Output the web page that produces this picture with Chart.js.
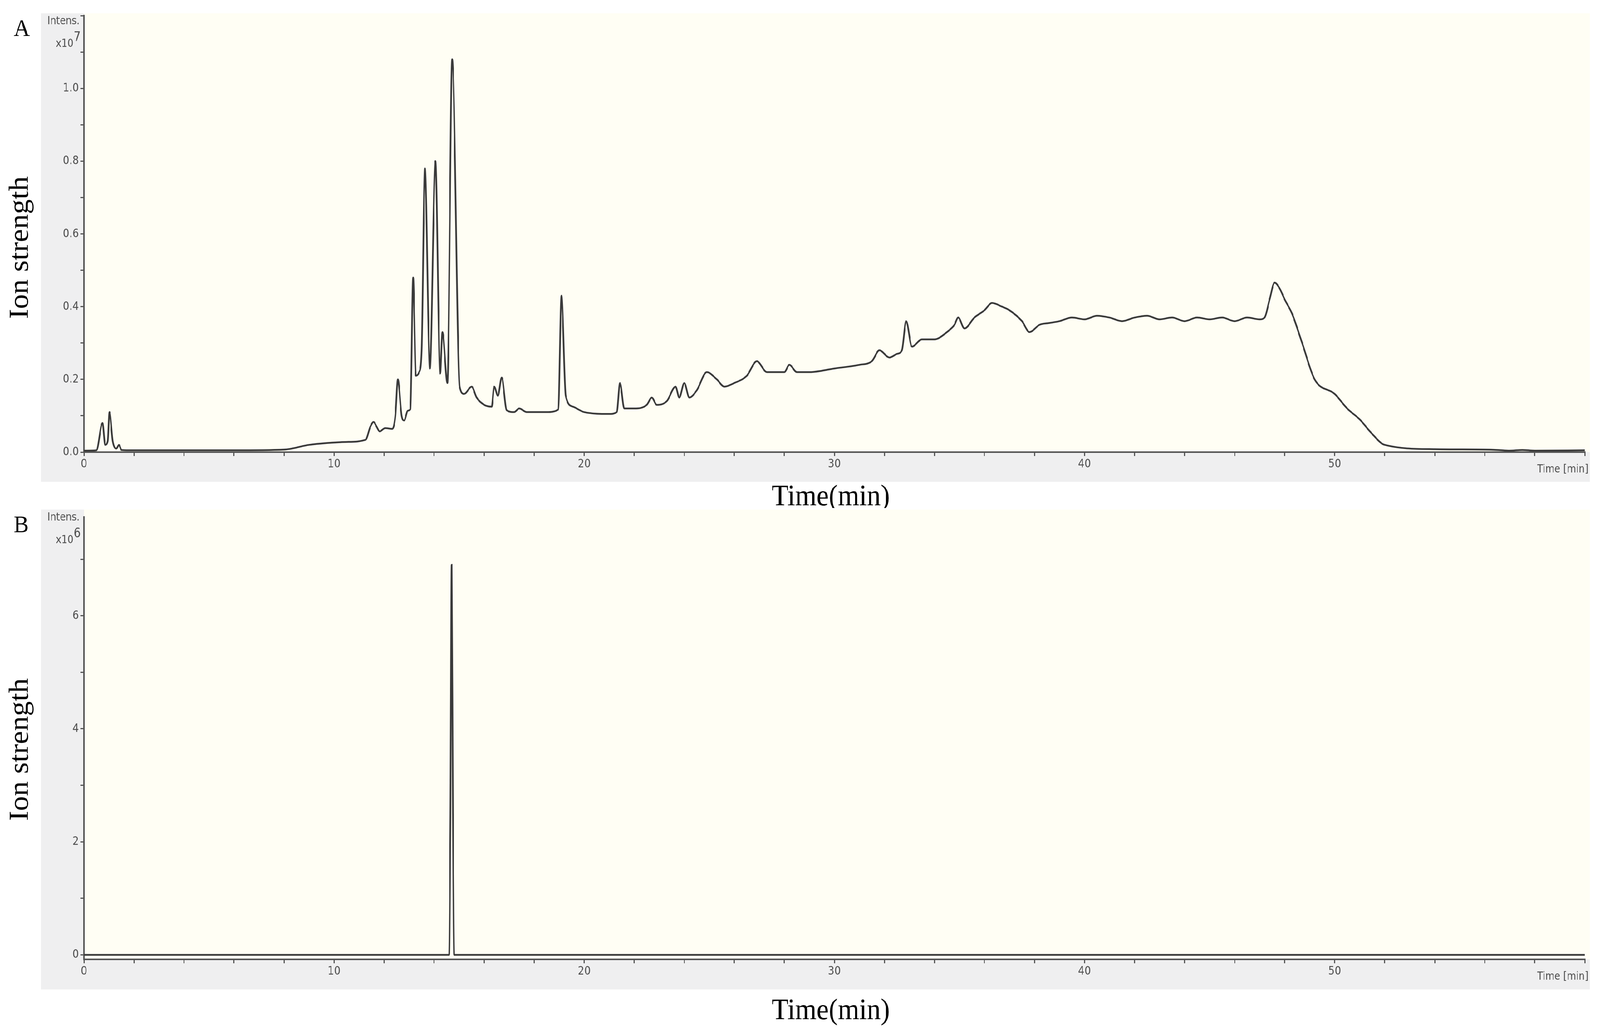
<!DOCTYPE html>
<html>
<head>
<meta charset="utf-8">
<script src="https://cdn.jsdelivr.net/npm/chart.js@4.4.0/dist/chart.umd.min.js"></script>
<style>
html, body { margin:0; padding:0; background:#fff; overflow:hidden; }
#wrap { position:absolute; left:0; top:0; width:4422px; height:2646px; transform-origin:0 0; }
canvas { position:absolute; left:0; }
</style>
</head>
<body>
<div id="wrap">
<canvas id="chartA" style="top:0px"></canvas>
<canvas id="chartB" style="top:1300px"></canvas>
</div>
<script>
// panel A: total ion chromatogram, intensity in x10^7
var timeA = [0, 0.5, 0.74, 0.85, 0.95, 1.02, 1.15, 1.3, 1.4, 1.5, 2, 4, 6, 8, 9, 9.7, 10.5, 11.26, 11.45, 11.58, 11.7, 11.82, 12.04, 12.33, 12.45, 12.55, 12.7, 12.8, 12.95, 13.05, 13.16, 13.27, 13.4, 13.5, 13.63, 13.83, 14.05, 14.24, 14.33, 14.53, 14.72, 15.02, 15.2, 15.5, 15.7, 16.0, 16.3, 16.4, 16.55, 16.7, 16.9, 17.2, 17.4, 17.7, 18.5, 18.96, 19.09, 19.26, 19.55, 20, 21, 21.3, 21.43, 21.6, 22, 22.5, 22.7, 22.9, 23.3, 23.65, 23.8, 24.0, 24.2, 24.5, 24.9, 25.3, 25.6, 26, 26.5, 26.9, 27.3, 28, 28.2, 28.5, 29, 30, 31, 31.5, 31.8, 32.2, 32.5, 32.7, 32.87, 33.1, 33.5, 34, 34.5, 34.8, 34.95, 35.2, 35.6, 36, 36.3, 36.7, 37, 37.5, 37.8, 38.2, 38.6, 39, 39.5, 40, 40.5, 41, 41.5, 42, 42.5, 43, 43.5, 44, 44.5, 45, 45.5, 46, 46.5, 47, 47.2, 47.4, 47.6, 47.8, 48, 48.3, 48.7, 49.2, 50, 50.5, 51, 51.5, 52, 54, 56, 56.5, 57, 57.5, 58, 60];
var intensityA = [0.004, 0.005, 0.08, 0.02, 0.03, 0.11, 0.03, 0.01, 0.02, 0.006, 0.005, 0.005, 0.005, 0.007, 0.02, 0.025, 0.028, 0.034, 0.07, 0.083, 0.07, 0.057, 0.066, 0.064, 0.1, 0.2, 0.1, 0.087, 0.114, 0.118, 0.48, 0.21, 0.22, 0.28, 0.78, 0.23, 0.8, 0.216, 0.33, 0.19, 1.08, 0.18, 0.16, 0.18, 0.15, 0.13, 0.125, 0.18, 0.155, 0.205, 0.115, 0.11, 0.12, 0.11, 0.11, 0.117, 0.43, 0.155, 0.125, 0.11, 0.105, 0.11, 0.19, 0.12, 0.12, 0.13, 0.15, 0.13, 0.14, 0.18, 0.15, 0.19, 0.15, 0.17, 0.22, 0.2, 0.18, 0.19, 0.21, 0.25, 0.22, 0.22, 0.24, 0.22, 0.22, 0.23, 0.24, 0.25, 0.28, 0.26, 0.27, 0.28, 0.36, 0.29, 0.31, 0.31, 0.33, 0.35, 0.37, 0.34, 0.37, 0.39, 0.41, 0.4, 0.39, 0.36, 0.33, 0.35, 0.355, 0.36, 0.37, 0.365, 0.375, 0.37, 0.36, 0.37, 0.375, 0.365, 0.37, 0.36, 0.37, 0.365, 0.37, 0.36, 0.37, 0.365, 0.37, 0.42, 0.466, 0.45, 0.42, 0.38, 0.3, 0.2, 0.16, 0.12, 0.09, 0.05, 0.02, 0.008, 0.007, 0.006, 0.004, 0.006, 0.004, 0.005, 0.004];

// panel B: extracted ion chromatogram, intensity in x10^6
var timeB = [0, 14.6, 14.65, 14.7, 14.75, 14.8, 60];
var intensityB = [0, 0, 2.5, 6.9, 2.5, 0, 0];

var ticksA = [0, 0.1, 0.2, 0.3, 0.4, 0.5, 0.6, 0.7, 0.8, 0.9, 1.0, 1.1, 1.2];
var labelsA = [0, 0.2, 0.4, 0.6, 0.8, 1.0];
var ticksB = [0, 1, 2, 3, 4, 5, 6, 7];
var labelsB = [0, 2, 4, 6];
var timeTicks = [0, 2, 4, 6, 8, 10, 12, 14, 16, 18, 20, 22, 24, 26, 28, 30, 32, 34, 36, 38, 40, 42, 44, 46, 48, 50, 52, 54, 56, 58, 60];
var timeLabels = [0, 10, 20, 30, 40, 50];

var tickFont = { family: 'DejaVu Sans Condensed', size: 31 };
var serif = '"Liberation Serif", "DejaVu Serif", serif';

var wrap = document.getElementById('wrap');
wrap.style.transform = 'scale(' + (window.innerWidth / 4422) + ',' + (window.innerHeight / 2646) + ')';

function pts(xs, ys) {
  return xs.map(function(x, i){ return { x: x, y: ys[i] }; });
}

var decor = {
  id: 'decor',
  beforeDraw: function(chart) {
    var c = chart.ctx, a = chart.chartArea, o = chart.options.plugins.decor;
    c.save();
    c.fillStyle = '#efeff0';
    c.fillRect(113, o.grayTop, 4394 - 113, o.grayBottom - o.grayTop);
    c.fillStyle = '#fffef4';
    c.fillRect(a.left, o.grayTop, 4394 - a.left, a.bottom - o.grayTop);
    c.restore();
  },
  afterDraw: function(chart) {
    var c = chart.ctx, a = chart.chartArea, o = chart.options.plugins.decor;
    c.save();
    c.fillStyle = '#000';
    c.font = '62px ' + serif;
    c.textAlign = 'left';
    c.textBaseline = 'middle';
    c.fillText(o.letter, 38, o.grayTop + 42);
    c.fillStyle = '#505050';
    c.font = '29px "DejaVu Sans Condensed", "DejaVu Sans"';
    c.textAlign = 'right';
    c.fillText('Intens.', 220, o.grayTop + 20);
    c.fillText('x10', 203, o.grayTop + 78);
    c.font = '34px "DejaVu Sans Condensed", "DejaVu Sans"';
    c.fillText(o.exp, 223, o.grayTop + 62);
    c.font = '29px "DejaVu Sans Condensed", "DejaVu Sans"';
    c.fillText('Time [min]', 4390, a.bottom + 44);
    c.fillStyle = '#000';
    c.font = '76px ' + serif;
    c.textAlign = 'center';
    c.fillText('Time(min)', 2296, o.titleY);
    c.translate(57, (o.grayTop + o.grayBottom) / 2);
    c.rotate(-Math.PI / 2);
    c.fillText('Ion strength', 0, 0);
    c.restore();
  }
};

function makeChart(id, height, xs, ys, ymin, ymax, yTicks, yLabels, pad, deco) {
  var el = document.getElementById(id);
  el.width = 4422; el.height = height;
  el.style.width = '4422px'; el.style.height = height + 'px';
  return new Chart(el, {
    type: 'line',
    data: { datasets: [{ data: pts(xs, ys), borderColor: '#3a3a3a', borderWidth: 4.5, pointRadius: 0,
      cubicInterpolationMode: 'monotone', fill: false }] },
    plugins: [decor],
    options: {
      responsive: false, animation: false, devicePixelRatio: 1,
      layout: { padding: pad },
      plugins: { legend: { display: false }, tooltip: { enabled: false }, decor: deco },
      scales: {
        x: {
          type: 'linear', min: 0, max: 60,
          afterFit: function(s){ s.height = 76; },
          afterBuildTicks: function(s){ s.ticks = timeTicks.map(function(v){ return { value: v }; }); },
          ticks: { font: tickFont, color: '#505050', padding: 2, maxRotation: 0, autoSkip: false,
            callback: function(v){ return timeLabels.indexOf(v) >= 0 ? String(v) : ''; } },
          grid: { drawOnChartArea: false, drawTicks: true, tickLength: 10, color: '#555', lineWidth: 3 },
          border: { color: '#555', width: 4 }
        },
        y: {
          type: 'linear', min: ymin, max: ymax,
          afterFit: function(s){ s.width = 119; },
          afterBuildTicks: function(s){ s.ticks = yTicks.map(function(v){ return { value: v }; }); },
          ticks: { font: tickFont, color: '#505050', padding: 4, autoSkip: false,
            callback: function(v){
              var r = Math.round(v * 10) / 10;
              if (yLabels.indexOf(r) < 0) return '';
              return deco.exp === '7' ? r.toFixed(1) : String(r);
            } },
          grid: { drawOnChartArea: false, drawTicks: true, tickLength: 10, color: '#555', lineWidth: 3 },
          border: { color: '#555', width: 4 }
        }
      }
    }
  });
}

makeChart('chartA', 1300, timeA, intensityA, 0, 1.2, ticksA, labelsA,
  { left: 113, right: 42, top: 40, bottom: 67 },
  { letter: 'A', exp: '7', grayTop: 34, grayBottom: 1233, titleY: 1273 });

makeChart('chartB', 1346, timeB, intensityB, -0.08, 7.75, ticksB, labelsB,
  { left: 113, right: 42, top: 13, bottom: 115 },
  { letter: 'B', exp: '6', grayTop: 4, grayBottom: 1232, titleY: 1288 });
</script>
</body>
</html>
